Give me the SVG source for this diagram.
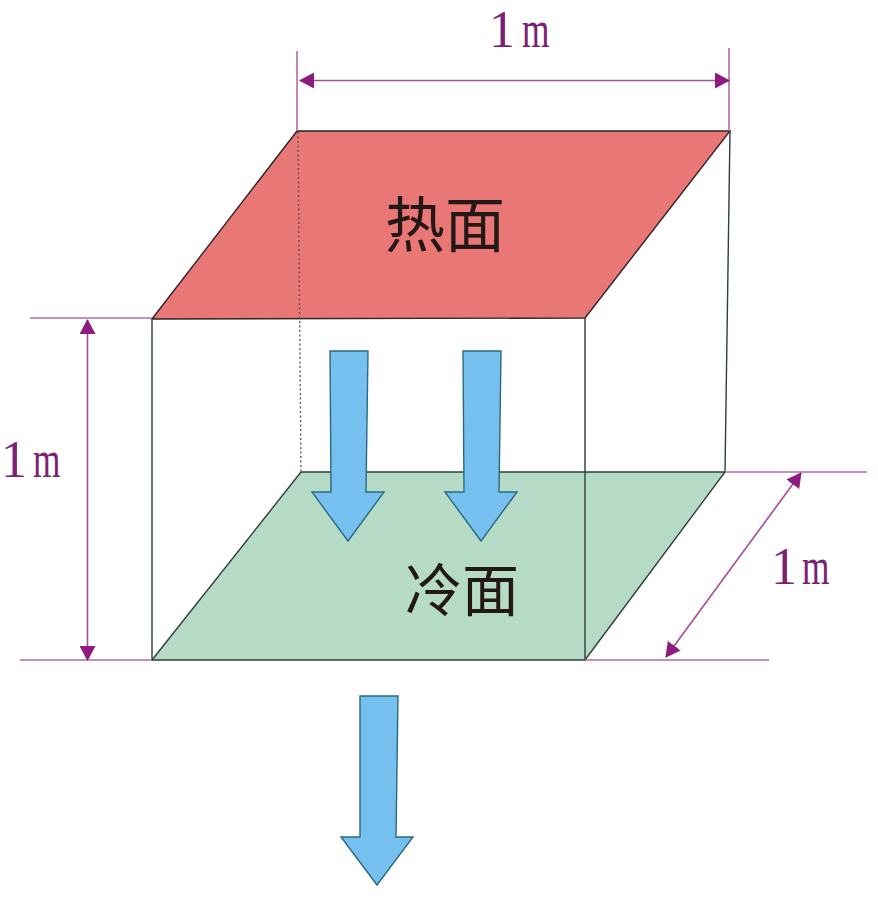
<svg xmlns="http://www.w3.org/2000/svg" width="878" height="903" viewBox="0 0 878 903">
<defs>
<marker id="ah" viewBox="0 0 15 16" refX="14" refY="8" markerWidth="15" markerHeight="16" markerUnits="userSpaceOnUse" orient="auto-start-reverse"><path d="M0 0L15 8L0 16Z" fill="#8e1c80"/></marker>
</defs>
<style>
.e{stroke:#2f3f3a;stroke-width:1.4;fill:none}
.ext{stroke:#b06cab;stroke-width:1.6;fill:none}
.dim{stroke:#a54d9c;stroke-width:1.6;fill:none;marker-start:url(#ah);marker-end:url(#ah)}
.arrow{fill:#75c0ef;stroke:#2a6a80;stroke-width:1.4}
.lab{font-family:"Liberation Serif",serif;font-size:52px;fill:#7d1f73}
.cn{font-family:"Noto Sans CJK SC","Noto Sans CJK JP",sans-serif;fill:#231815}
</style>
<rect width="878" height="903" fill="#ffffff"/>
<g id="cold-face">
<path d="M152 660L301 472L725 472L585 660Z" fill="#b5dac6" stroke="none"/>
<text class="cn" x="405" y="611" font-size="57">冷面</text>
</g>
<g id="hot-face">
<path d="M152 319L297 131L730 131L585 318Z" fill="#e97776" stroke="#2d2425" stroke-width="1.4"/>
<text class="cn" x="385" y="247" font-size="60">热面</text>
</g>
<g id="box">
<path class="e" d="M152 319L152 660L585 660L585 318"/>
<path class="e" d="M730 131L725 472L585 660"/>
<path class="e" d="M152 660L301 472L725 472"/>
<path d="M298 132L301 472" fill="none" stroke="#55504f" stroke-width="1.3" stroke-dasharray="2 2.500"/>
</g>
<g id="flow-arrows">
<path id="arrow-1" class="arrow" d="M330 351L368 351L366 492L384 492L348 541L312 492L331 492Z"/>
<path id="arrow-2" class="arrow" d="M463 351L501 351L499 492L517 492L481 541L445 492L464 492Z"/>
<path id="arrow-3" class="arrow" d="M360 696L398 696L396 837L413 837L377 885L341 837L360 837Z"/>
</g>
<g id="connectors">
<path class="ext" d="M297 51L297 131M729 48L729 131M30 318L152 318M20 660L152 660M725 472L867 472M585 660L769 660"/>
<path class="dim" d="M300 80.500L729 80.500"/>
<path class="dim" d="M87.500 320L87.500 660"/>
<path class="dim" d="M666 657L801 473"/>
</g>
<g id="labels">
<text class="lab" transform="translate(489 47)">1</text><text class="lab" transform="translate(522 47) scale(.68 1)">m</text>
<text class="lab" transform="translate(1 477)">1</text><text class="lab" transform="translate(33 477) scale(.68 1)">m</text>
<text class="lab" transform="translate(771 584)">1</text><text class="lab" transform="translate(802 584) scale(.68 1)">m</text>
</g>
</svg>
